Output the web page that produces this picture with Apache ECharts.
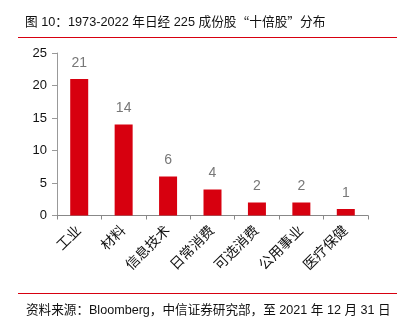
<!DOCTYPE html>
<html><head><meta charset="utf-8">
<script src="https://cdn.jsdelivr.net/npm/echarts@6/dist/echarts.min.js"></script>
<style>html,body{margin:0;padding:0;background:#fff;}#c{width:408px;height:326px;}</style>
</head><body><div id="c"></div>
<script>
const categories = ['工业','材料','信息技术','日常消费','可选消费','公用事业','医疗保健'];
const values = [21,14,6,4,2,2,1];
const yTicks = [0,5,10,15,20,25];
const titleText = '图 10：1973-2022 年日经 225 成份股{q|“}十倍股{q|”}分布';
const sourceText = '资料来源：Bloomberg，中信证券研究部，至 2021 年 12 月 31 日';
const font = '"Liberation Sans","Noto Sans CJK SC",sans-serif';
const cjk = '"Noto Sans CJK SC",sans-serif';
const chart = echarts.init(document.getElementById('c'), null, {renderer:'canvas'});
chart.setOption({
  animation:false,
  title:[{text:titleText,left:20,top:11,textStyle:{fontSize:12.7,fontWeight:'normal',color:'#111',fontFamily:font,
            rich:{q:{fontSize:12.7,fontFamily:cjk,color:'#111',width:12.7,align:'center'}}}},
         {text:sourceText,left:21,top:299,textStyle:{fontSize:12.6,fontWeight:'normal',color:'#111',fontFamily:font}}],
  graphic:[{type:'line',shape:{x1:18,y1:37.5,x2:397,y2:37.5},style:{stroke:'#d7000f',lineWidth:1}},
           {type:'line',shape:{x1:18,y1:293.5,x2:397,y2:293.5},style:{stroke:'#d7000f',lineWidth:1}}],
  grid:{left:57,right:40,top:53,bottom:110.5,containLabel:false},
  xAxis:{type:'category',data:categories,
    axisLine:{lineStyle:{color:'#888',width:1}},
    axisTick:{show:true,alignWithLabel:false,length:4,lineStyle:{color:'#888'}},
    axisLabel:{rotate:45,color:'#111',fontSize:14,fontFamily:font,margin:13,interval:0}},
  yAxis:{type:'value',min:yTicks[0],max:yTicks[yTicks.length-1],interval:5,
    axisLine:{show:true,lineStyle:{color:'#999'}},
    axisTick:{show:true,inside:false,length:5,lineStyle:{color:'#999'}},
    splitLine:{show:false},
    axisLabel:{color:'#111',fontSize:13,fontFamily:font,margin:10}},
  series:[{type:'bar',data:values,barWidth:18,itemStyle:{color:'#d7000f'},
    label:{show:true,position:'top',color:'#777',fontSize:14,fontFamily:font,distance:9}}]
});
</script></body></html>
